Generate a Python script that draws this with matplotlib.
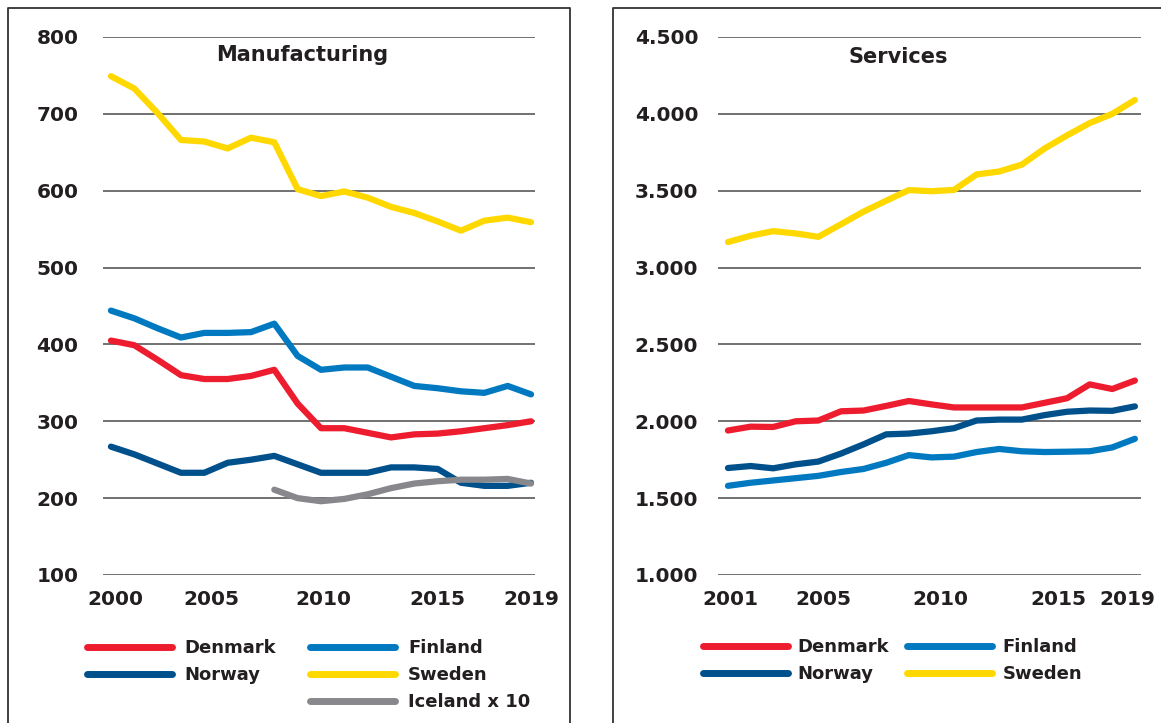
import matplotlib
matplotlib.use('Agg')
import matplotlib.pyplot as plt
from matplotlib.lines import Line2D

plt.rcParams['font.family'] = ['DejaVu Sans']
plt.rcParams['font.weight'] = 'bold'

# Manufacturing (19 points, labelled 2000..2019)
mfg_denmark = [405, 399, 380, 360, 355, 355, 359, 367, 323, 291, 291, 285, 279, 283, 284, 287, 291, 295, 300]
mfg_finland = [444, 434, 421, 409, 415, 415, 416, 427, 385, 367, 370, 370, 358, 346, 343, 339, 337, 346, 335]
mfg_norway = [267, 257, 245, 233, 233, 246, 250, 255, 244, 233, 233, 233, 240, 240, 238, 220, 216, 216, 220]
mfg_sweden = [749, 733, 701, 666, 664, 655, 669, 663, 602, 593, 599, 591, 579, 571, 560, 548, 561, 565, 559]
mfg_iceland = [211, 200, 196, 199, 205, 213, 219, 222, 224, 224, 225, 219]  # x 10, from 8th point
mfg_ticks = ["2000", "2005", "2010", "2015", "2019"]

# Services (2001..2019)
srv_denmark = [1940, 1965, 1963, 2000, 2005, 2065, 2070, 2100, 2132, 2110, 2090, 2090, 2090, 2090, 2120, 2150, 2240, 2210, 2265]
srv_finland = [1580, 1600, 1615, 1630, 1645, 1670, 1690, 1730, 1780, 1765, 1770, 1800, 1820, 1805, 1800, 1802, 1805, 1830, 1886]
srv_norway = [1696, 1709, 1694, 1720, 1738, 1790, 1850, 1915, 1920, 1935, 1955, 2005, 2011, 2011, 2040, 2062, 2070, 2068, 2097]
srv_sweden = [3166, 3207, 3237, 3222, 3200, 3282, 3364, 3435, 3504, 3497, 3505, 3606, 3625, 3670, 3774, 3860, 3940, 4000, 4090]
srv_ticks = ["2001", "2005", "2010", "2015", "2019"]

RED = '#ED1C2E'
BLUE = '#0079C1'
NAVY = '#00508C'
YELLOW = '#FFD800'
GREY = '#88888C'
LW = 4.5

W, H = 1161, 723
fig = plt.figure(figsize=(W / 100, H / 100), dpi=100)


def px_axes(l, r, t, b):
    return fig.add_axes([l / W, 1 - b / H, (r - l) / W, (b - t) / H])


def style(ax, yticks, ylabels, xpos, xlabels, ypad):
    ax.set_yticks(yticks)
    ax.set_yticklabels(ylabels)
    ax.set_xticks(xpos)
    ax.set_xticklabels(xlabels)
    for s in ax.spines.values():
        s.set_visible(False)
    ax.grid(axis='y', color='#4a4a4a', lw=1.1)
    ax.set_axisbelow(True)
    ax.tick_params(length=0, labelsize=14.5, colors='#231f20')
    ax.tick_params(axis='x', pad=11)
    ax.tick_params(axis='y', pad=ypad)
    for t in ax.get_yticklabels():
        t.set_horizontalalignment('left')


def draw(ax, x, y, c):
    ax.plot(x, y, color=c, lw=LW, solid_capstyle='round', solid_joinstyle='round', clip_on=False)


# ---- Manufacturing ----
ax1 = px_axes(103, 535, 37, 575)
idx = list(range(len(mfg_sweden)))
draw(ax1, idx, mfg_sweden, YELLOW)
draw(ax1, idx, mfg_finland, BLUE)
draw(ax1, idx, mfg_denmark, RED)
draw(ax1, idx, mfg_norway, NAVY)
draw(ax1, idx[7:], mfg_iceland, GREY)
ax1.set_ylim(100, 800)
ax1.set_xlim(-0.34, 18.17)
style(ax1, range(100, 801, 100), [str(v) for v in range(100, 801, 100)],
      [0.17, 4.3, 9.1, 14.0, 18.0], mfg_ticks, 48)
ax1.text(0.46, 0.966, "Manufacturing", transform=ax1.transAxes, ha='center', va='center',
         fontsize=15, color='#231f20')

# ---- Services ----
ax2 = px_axes(718, 1141, 37, 575)
idx2 = list(range(len(srv_sweden)))
draw(ax2, idx2, srv_sweden, YELLOW)
draw(ax2, idx2, srv_finland, BLUE)
draw(ax2, idx2, srv_norway, NAVY)
draw(ax2, idx2, srv_denmark, RED)
ax2.set_ylim(1000, 4500)
ax2.set_xlim(-0.44, 18.27)
style(ax2, range(1000, 4501, 500), [f"{v:,}".replace(",", ".") for v in range(1000, 4501, 500)],
      [0.1, 4.2, 9.4, 14.6, 17.65], srv_ticks, 60)
ax2.text(0.4255, 0.963, "Services", transform=ax2.transAxes, ha='center', va='center',
         fontsize=15, color='#231f20')


def handle(c):
    return Line2D([], [], color=c, lw=5, solid_capstyle='round')


blank = Line2D([], [], color='none')
leg1 = fig.legend([handle(RED), handle(NAVY), blank, handle(BLUE), handle(YELLOW), handle(GREY)],
                  ["Denmark", "Norway", "", "Finland", "Sweden", "Iceland x 10"],
                  ncol=2, frameon=False, fontsize=13, handlelength=4.7, handletextpad=0.7,
                  columnspacing=1.9, labelspacing=0.5, loc='upper left',
                  bbox_to_anchor=(87 / W, 1 - 639 / H), borderaxespad=0, borderpad=0)
leg2 = fig.legend([handle(RED), handle(NAVY), handle(BLUE), handle(YELLOW)],
                  ["Denmark", "Norway", "Finland", "Sweden"],
                  ncol=2, frameon=False, fontsize=13, handlelength=4.7, handletextpad=0.55,
                  columnspacing=1.0, labelspacing=0.5, loc='upper left',
                  bbox_to_anchor=(703 / W, 1 - 638 / H), borderaxespad=0, borderpad=0)
for lg in (leg1, leg2):
    for t in lg.get_texts():
        t.set_color('#231f20')

# panel frames
box = dict(color='#333333', lw=1.3, transform=fig.transFigure)
fig.add_artist(Line2D([8 / W, 8 / W, 570 / W, 570 / W], [0, 1 - 8 / H, 1 - 8 / H, 0], **box))
fig.add_artist(Line2D([613 / W, 613 / W, 1], [0, 1 - 8 / H, 1 - 8 / H], **box))

fig.savefig("out.png", dpi=100)
